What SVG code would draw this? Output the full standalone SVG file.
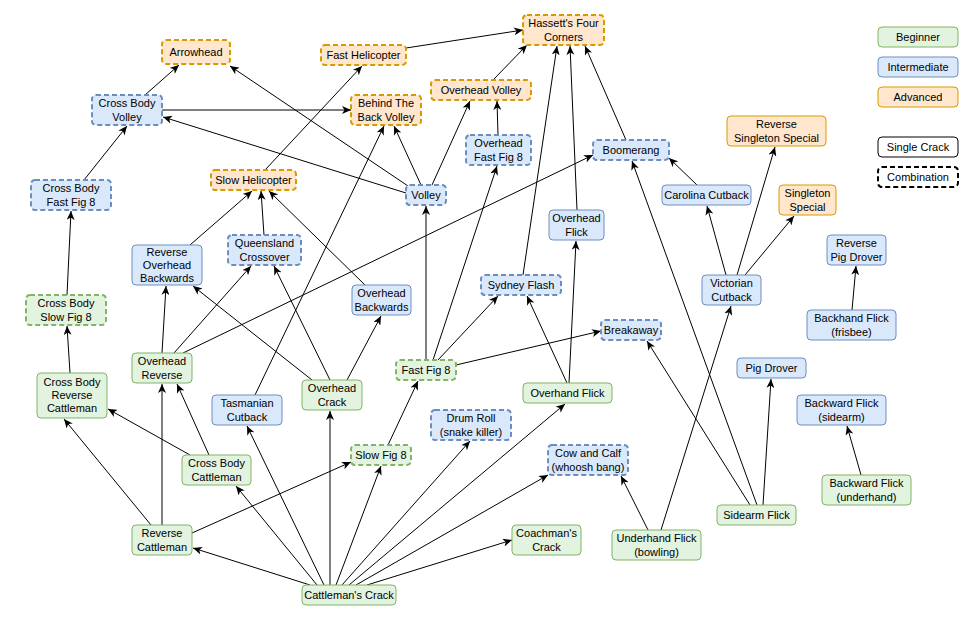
<svg xmlns="http://www.w3.org/2000/svg" width="976" height="618" viewBox="0 0 976 618">
<defs>
<marker id="arr" markerUnits="userSpaceOnUse" markerWidth="10" markerHeight="8" refX="9" refY="4" orient="auto">
<path d="M0,0 L9,4 L0,8 L2.5,4 z" fill="#000"/>
</marker>
</defs>
<style>
text{font-family:"Liberation Sans",Arial,sans-serif;font-size:11px;fill:#000;text-anchor:middle}
rect{rx:4;ry:4}
.g{fill:#e2f3df;stroke:#82b366;stroke-width:1}
.b{fill:#dae8fc;stroke:#6c8ebf;stroke-width:1}
.o{fill:#ffe6cc;stroke:#d79b00;stroke-width:1}
.d{stroke-width:2;stroke-dasharray:5 3}
.w{fill:#fff;stroke:#000;stroke-width:1}
.wd{fill:#fff;stroke:#000;stroke-width:2;stroke-dasharray:5 3}
#edges line{stroke:#000;stroke-width:1;marker-end:url(#arr)}
</style>
<rect width="976" height="618" fill="#fff" rx="0" ry="0"/>
<g id="edges">
<line x1="145" y1="95" x2="179" y2="65"/>
<line x1="408" y1="186" x2="230" y2="66"/>
<line x1="406" y1="193" x2="163" y2="117"/>
<line x1="162" y1="110" x2="351" y2="110"/>
<line x1="84" y1="180" x2="127" y2="126"/>
<line x1="265" y1="170" x2="362" y2="66"/>
<line x1="406" y1="48" x2="523" y2="30"/>
<line x1="493" y1="80" x2="527" y2="45"/>
<line x1="498" y1="135" x2="497" y2="101"/>
<line x1="432" y1="185" x2="470" y2="101"/>
<line x1="421" y1="185" x2="394" y2="126"/>
<line x1="255" y1="395" x2="384" y2="126"/>
<line x1="523" y1="275" x2="557" y2="46"/>
<line x1="577" y1="210" x2="570" y2="46"/>
<line x1="626" y1="140" x2="585" y2="46"/>
<line x1="183" y1="353" x2="593" y2="155"/>
<line x1="697" y1="185" x2="669" y2="158"/>
<line x1="757" y1="505" x2="632" y2="161"/>
<line x1="726" y1="275" x2="707" y2="206"/>
<line x1="737" y1="275" x2="775" y2="147"/>
<line x1="745" y1="275" x2="794" y2="216"/>
<line x1="661" y1="530" x2="731" y2="306"/>
<line x1="648" y1="530" x2="621" y2="476"/>
<line x1="750" y1="505" x2="647" y2="341"/>
<line x1="763" y1="505" x2="771" y2="379"/>
<line x1="852" y1="310" x2="856" y2="266"/>
<line x1="861" y1="475" x2="847" y2="426"/>
<line x1="426" y1="360" x2="426" y2="206"/>
<line x1="433" y1="360" x2="497" y2="166"/>
<line x1="438" y1="360" x2="498" y2="296"/>
<line x1="456" y1="365" x2="601" y2="331"/>
<line x1="567" y1="383" x2="527" y2="296"/>
<line x1="569" y1="383" x2="576" y2="241"/>
<line x1="347" y1="380" x2="381" y2="316"/>
<line x1="330" y1="380" x2="274" y2="266"/>
<line x1="312" y1="380" x2="193" y2="286"/>
<line x1="365" y1="285" x2="269" y2="191"/>
<line x1="264" y1="235" x2="261" y2="191"/>
<line x1="190" y1="245" x2="252" y2="191"/>
<line x1="162" y1="353" x2="166" y2="286"/>
<line x1="174" y1="353" x2="251" y2="266"/>
<line x1="67" y1="295" x2="71" y2="211"/>
<line x1="70" y1="373" x2="67" y2="326"/>
<line x1="209" y1="455" x2="177" y2="384"/>
<line x1="190" y1="455" x2="108" y2="409"/>
<line x1="151" y1="525" x2="64" y2="419"/>
<line x1="162" y1="525" x2="162" y2="384"/>
<line x1="192" y1="533" x2="351" y2="462"/>
<line x1="310" y1="585" x2="193" y2="548"/>
<line x1="317" y1="585" x2="236" y2="486"/>
<line x1="324" y1="585" x2="247" y2="426"/>
<line x1="330" y1="585" x2="330" y2="411"/>
<line x1="336" y1="585" x2="381" y2="466"/>
<line x1="342" y1="585" x2="470" y2="441"/>
<line x1="349" y1="585" x2="565" y2="404"/>
<line x1="356" y1="585" x2="548" y2="475"/>
<line x1="367" y1="585" x2="512" y2="540"/>
<line x1="388" y1="445" x2="418" y2="381"/>
</g>
<g id="legend-beginner"><rect class="g" x="878" y="27" width="80" height="20"/><text x="918" y="41">Beginner</text></g>
<g id="legend-intermediate"><rect class="b" x="878" y="57" width="80" height="20"/><text x="918" y="71">Intermediate</text></g>
<g id="legend-advanced"><rect class="o" x="878" y="87" width="80" height="20"/><text x="918" y="101">Advanced</text></g>
<g id="legend-single"><rect class="w" x="878" y="137" width="80" height="20"/><text x="918" y="151">Single Crack</text></g>
<g id="legend-combination"><rect class="wd" x="878" y="167" width="80" height="20"/><text x="918" y="181">Combination</text></g>

<g id="arrowhead"><rect class="o d" x="162" y="40" width="68" height="24"/><text x="196" y="56">Arrowhead</text></g>
<g id="cross-body-volley"><rect class="b d" x="92" y="95" width="70" height="30"/><text x="127" y="107">Cross Body</text><text x="127" y="121">Volley</text></g>
<g id="cross-body-fast-fig-8"><rect class="b d" x="31" y="180" width="80" height="30"/><text x="71" y="192">Cross Body</text><text x="71" y="206">Fast Fig 8</text></g>
<g id="slow-helicopter"><rect class="o d" x="211" y="170" width="85" height="20"/><text x="253.5" y="184">Slow Helicopter</text></g>
<g id="fast-helicopter"><rect class="o d" x="321" y="45" width="85" height="20"/><text x="363.5" y="59">Fast Helicopter</text></g>
<g id="hassetts-four-corners"><rect class="o d" x="523" y="15" width="81" height="30"/><text x="563.5" y="27">Hassett's Four</text><text x="563.5" y="41">Corners</text></g>
<g id="behind-the-back-volley"><rect class="o d" x="351" y="95" width="70" height="30"/><text x="386" y="107">Behind The</text><text x="386" y="121">Back Volley</text></g>
<g id="overhead-volley"><rect class="o d" x="431" y="80" width="100" height="20"/><text x="481" y="94">Overhead Volley</text></g>
<g id="overhead-fast-fig-8"><rect class="b d" x="466" y="135" width="65" height="30"/><text x="498.5" y="147">Overhead</text><text x="498.5" y="161">Fast Fig 8</text></g>
<g id="volley"><rect class="b d" x="406" y="185" width="40" height="20"/><text x="426" y="199">Volley</text></g>
<g id="boomerang"><rect class="b d" x="593" y="140" width="76" height="20"/><text x="631" y="154">Boomerang</text></g>
<g id="reverse-singleton-special"><rect class="o" x="727" y="116" width="99" height="30"/><text x="776.5" y="128">Reverse</text><text x="776.5" y="142">Singleton Special</text></g>
<g id="carolina-cutback"><rect class="b" x="662" y="185" width="89" height="20"/><text x="706.5" y="199">Carolina Cutback</text></g>
<g id="singleton-special"><rect class="o" x="779" y="185" width="57" height="30"/><text x="807.5" y="197">Singleton</text><text x="807.5" y="211">Special</text></g>
<g id="overhead-flick"><rect class="b" x="549" y="210" width="55" height="30"/><text x="576.5" y="222">Overhead</text><text x="576.5" y="236">Flick</text></g>
<g id="sydney-flash"><rect class="b d" x="481" y="275" width="80" height="20"/><text x="521" y="289">Sydney Flash</text></g>
<g id="overhead-backwards"><rect class="b" x="352" y="285" width="59" height="30"/><text x="381.5" y="297">Overhead</text><text x="381.5" y="311">Backwards</text></g>
<g id="fast-fig-8"><rect class="g d" x="396" y="360" width="60" height="20"/><text x="426" y="374">Fast Fig 8</text></g>
<g id="breakaway"><rect class="b d" x="601" y="320" width="60" height="20"/><text x="631" y="334">Breakaway</text></g>
<g id="overhand-flick"><rect class="g" x="523" y="383" width="89" height="20"/><text x="567.5" y="397">Overhand Flick</text></g>
<g id="overhead-crack"><rect class="g" x="302" y="380" width="60" height="30"/><text x="332" y="392">Overhead</text><text x="332" y="406">Crack</text></g>
<g id="reverse-overhead-backwards"><rect class="b" x="132" y="245" width="70" height="40"/><text x="167" y="256">Reverse</text><text x="167" y="269">Overhead</text><text x="167" y="282">Backwards</text></g>
<g id="queensland-crossover"><rect class="b d" x="228" y="235" width="73" height="30"/><text x="264.5" y="247">Queensland</text><text x="264.5" y="261">Crossover</text></g>
<g id="cross-body-slow-fig-8"><rect class="g d" x="26" y="295" width="80" height="30"/><text x="66" y="307">Cross Body</text><text x="66" y="321">Slow Fig 8</text></g>
<g id="overhead-reverse"><rect class="g" x="132" y="353" width="60" height="30"/><text x="162" y="365">Overhead</text><text x="162" y="379">Reverse</text></g>
<g id="cross-body-reverse-cattleman"><rect class="g" x="37" y="373" width="70" height="45"/><text x="72" y="386">Cross Body</text><text x="72" y="399">Reverse</text><text x="72" y="412">Cattleman</text></g>
<g id="tasmanian-cutback"><rect class="b" x="212" y="395" width="70" height="30"/><text x="247" y="407">Tasmanian</text><text x="247" y="421">Cutback</text></g>
<g id="victorian-cutback"><rect class="b" x="702" y="275" width="59" height="30"/><text x="731.5" y="287">Victorian</text><text x="731.5" y="301">Cutback</text></g>
<g id="reverse-pig-drover"><rect class="b" x="827" y="235" width="59" height="30"/><text x="856.5" y="247">Reverse</text><text x="856.5" y="261">Pig Drover</text></g>
<g id="backhand-flick"><rect class="b" x="807" y="310" width="89" height="30"/><text x="851.5" y="322">Backhand Flick</text><text x="851.5" y="336">(frisbee)</text></g>
<g id="pig-drover"><rect class="b" x="737" y="358" width="69" height="20"/><text x="771.5" y="372">Pig Drover</text></g>
<g id="backward-flick-sidearm"><rect class="b" x="797" y="395" width="89" height="30"/><text x="841.5" y="407">Backward Flick</text><text x="841.5" y="421">(sidearm)</text></g>
<g id="backward-flick-underhand"><rect class="g" x="822" y="475" width="89" height="30"/><text x="866.5" y="487">Backward Flick</text><text x="866.5" y="501">(underhand)</text></g>
<g id="sidearm-flick"><rect class="g" x="717" y="505" width="79" height="20"/><text x="756.5" y="519">Sidearm Flick</text></g>
<g id="underhand-flick"><rect class="g" x="612" y="530" width="89" height="30"/><text x="656.5" y="542">Underhand Flick</text><text x="656.5" y="556">(bowling)</text></g>
<g id="cow-and-calf"><rect class="b d" x="548" y="445" width="80" height="30"/><text x="588" y="457">Cow and Calf</text><text x="588" y="471">(whoosh bang)</text></g>
<g id="coachmans-crack"><rect class="g" x="512" y="525" width="69" height="30"/><text x="546.5" y="537">Coachman's</text><text x="546.5" y="551">Crack</text></g>
<g id="drum-roll"><rect class="b d" x="431" y="410" width="80" height="30"/><text x="471" y="422">Drum Roll</text><text x="471" y="436">(snake killer)</text></g>
<g id="slow-fig-8"><rect class="g d" x="351" y="445" width="60" height="20"/><text x="381" y="459">Slow Fig 8</text></g>
<g id="cattlemans-crack"><rect class="g" x="302" y="585" width="94" height="20"/><text x="349" y="599">Cattleman's Crack</text></g>
<g id="reverse-cattleman"><rect class="g" x="132" y="525" width="60" height="30"/><text x="162" y="537">Reverse</text><text x="162" y="551">Cattleman</text></g>
<g id="cross-body-cattleman"><rect class="g" x="182" y="455" width="69" height="30"/><text x="216.5" y="467">Cross Body</text><text x="216.5" y="481">Cattleman</text></g>
</svg>
